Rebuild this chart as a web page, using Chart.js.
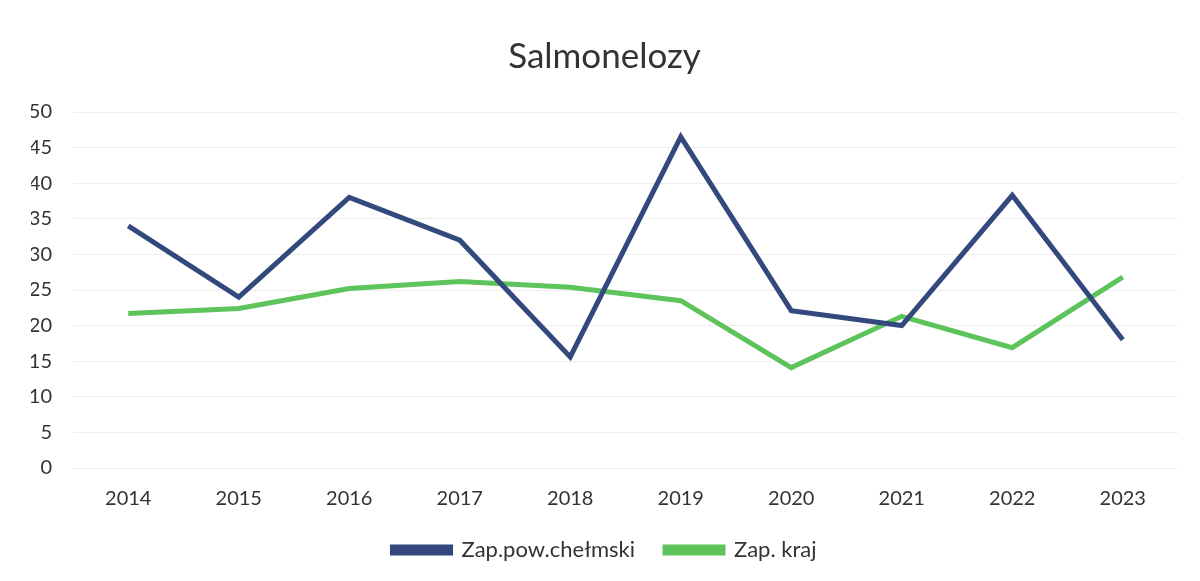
<!DOCTYPE html>
<html>
<head>
<meta charset="utf-8">
<script src="https://cdn.jsdelivr.net/npm/chart.js@4.4.1/dist/chart.umd.min.js"></script>
<style>
  body { margin: 0; background: #fff; }
</style>
</head>
<body>
<canvas id="salmChart" width="1200" height="581"></canvas>
<script>
// Lata na osi X
var lata = ['2014', '2015', '2016', '2017', '2018', '2019', '2020', '2021', '2022', '2023'];
// Zapadalnosc - powiat chelmski
var powChelmski = [34, 24, 38, 32, 15.6, 46.5, 22.1, 20, 38.3, 18];
// Zapadalnosc - kraj
var kraj = [21.7, 22.4, 25.2, 26.2, 25.4, 23.5, 14.1, 21.3, 16.9, 26.8];

var fontFam = 'Lato, "Open Sans", sans-serif';
var ctx = document.getElementById('salmChart');

var config = {
    type: 'line',
    data: {
        labels: lata,
        datasets: [{
            label: 'Zap.pow.chełmski',
            data: powChelmski,
            borderColor: '#33497e',
            backgroundColor: '#33497e',
            borderWidth: 5,
            pointRadius: 0,
            tension: 0
        }, {
            label: 'Zap. kraj',
            data: kraj,
            borderColor: '#5dc35b',
            backgroundColor: '#5dc35b',
            borderWidth: 5,
            pointRadius: 0,
            tension: 0
        }]
    },
    options: {
        responsive: false,
        animation: false,
        layout: { padding: { left: 31, right: 22, top: 35, bottom: 10 } },
        plugins: {
            title: {
                display: true,
                text: 'Salmonelozy',
                color: '#333',
                font: { family: fontFam, size: 35, weight: 'normal' },
                padding: { top: 1, bottom: 34 }
            },
            legend: {
                position: 'bottom',
                labels: {
                    color: '#333',
                    font: { family: fontFam, size: 22 },
                    boxWidth: 58,
                    boxHeight: 6,
                    padding: 30
                }
            },
            tooltip: { enabled: false }
        },
        scales: {
            x: {
                offset: true,
                afterFit: function (scale) { scale.height -= 13; },
                grid: { display: false },
                border: { display: false },
                ticks: { color: '#333', font: { family: fontFam, size: 20 }, padding: 11 }
            },
            y: {
                min: 0,
                max: 50,
                afterFit: function (scale) { scale.width = 42; },
                grid: { color: '#eeeeee', lineWidth: 1, drawTicks: false },
                border: { display: false },
                ticks: { stepSize: 5, color: '#333', font: { family: fontFam, size: 20 }, padding: 21 }
            }
        }
    }
};

window.myChart = new Chart(ctx, config);
</script>
</body>
</html>
